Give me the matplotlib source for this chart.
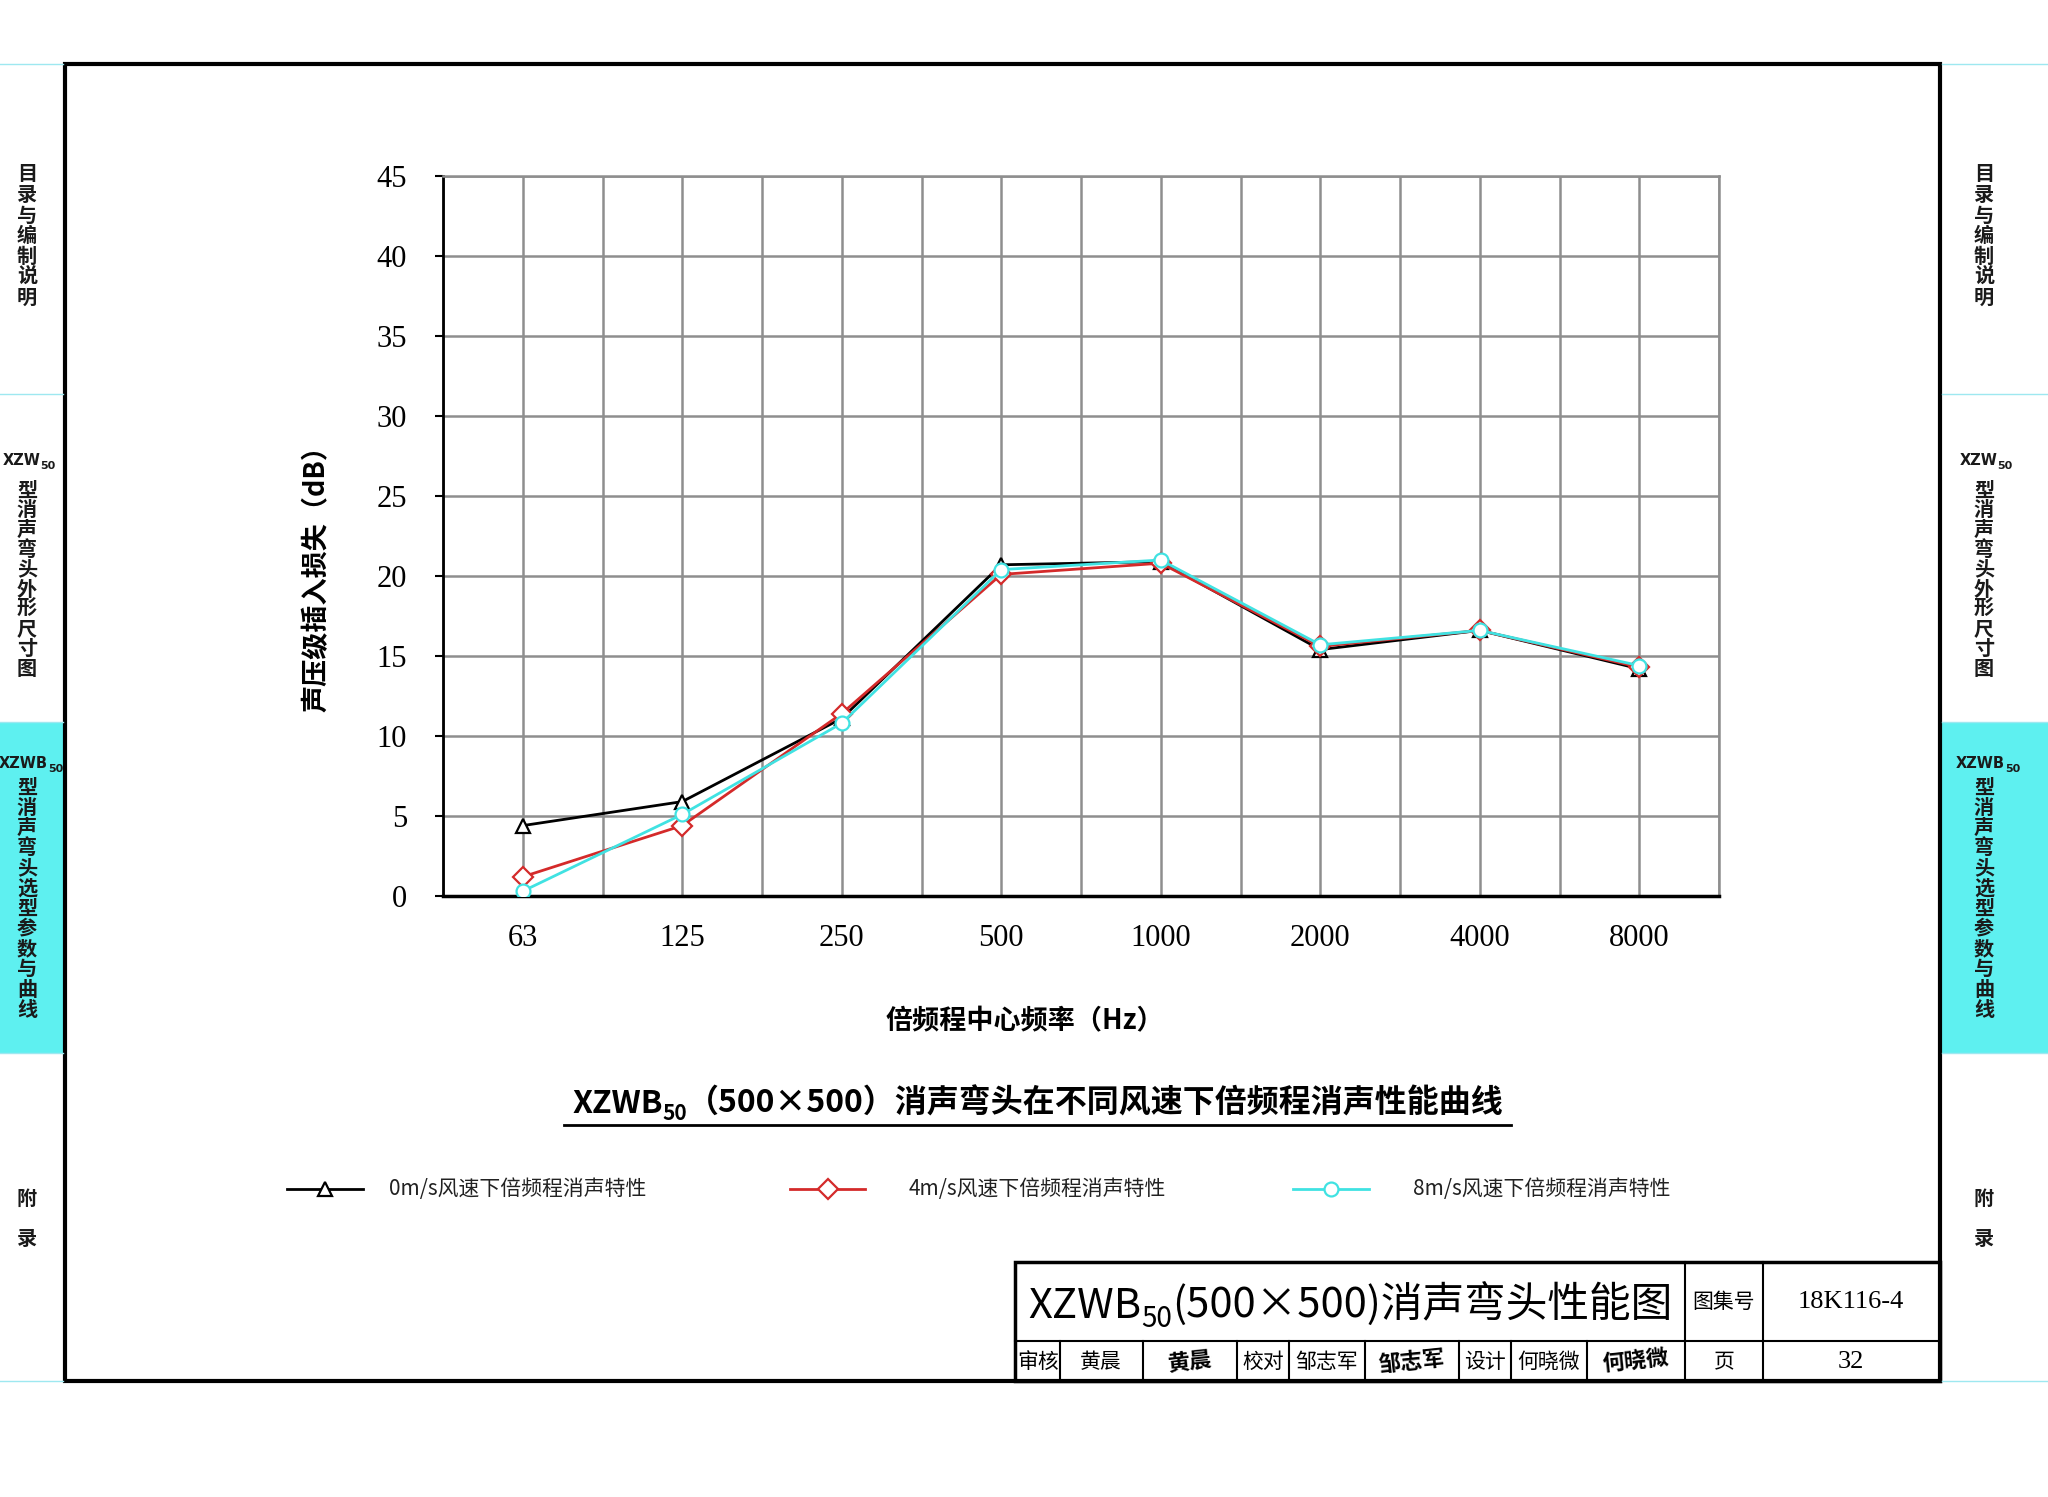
import matplotlib
matplotlib.use('Agg')
import matplotlib.pyplot as plt

plt.rcParams['font.family'] = ['Noto Sans CJK SC', 'DejaVu Sans']

# data
freqs = ['63', '125', '250', '500', '1000', '2000', '4000', '8000']
loss_0ms = [4.4, 5.9, 11.1, 20.7, 20.9, 15.4, 16.6, 14.2]
loss_4ms = [1.2, 4.4, 11.4, 20.1, 20.8, 15.6, 16.6, 14.3]
loss_8ms = [0.3, 5.1, 10.8, 20.4, 21.0, 15.7, 16.6, 14.4]
y_ticks = [0, 5, 10, 15, 20, 25, 30, 35, 40, 45]

series = [
    (loss_0ms, '0m/s风速下倍频程消声特性', 'black', '^'),
    (loss_4ms, '4m/s风速下倍频程消声特性', '#d42a2a', 'D'),
    (loss_8ms, '8m/s风速下倍频程消声特性', '#40e2e2', 'o'),
]

W, H = 2048, 1497
fig = plt.figure(figsize=(W / 100, H / 100), dpi=100)
page = fig.add_axes([0, 0, 1, 1])
page.set_xlim(0, W)
page.set_ylim(H, 0)
page.axis('off')
renderer = fig.canvas.get_renderer()

CYAN = '#5ef0f0'
SERIF = ['Liberation Serif', 'Noto Sans CJK SC']


def rich(x, y, parts, ha='left', **kw):
    # parts: (text, size, dy) drawn one after another on one baseline
    items = []
    cx = x
    for s, size, dy in parts:
        t = page.text(cx, y + dy, s, fontsize=size, va='baseline', ha='left', **kw)
        w = t.get_window_extent(renderer).width
        items.append(t)
        cx += w
    total = cx - x
    if ha == 'center':
        for t in items:
            t.set_x(t.get_position()[0] - total / 2)
    return items


def vertical(x, y0, step, s, size=14.5):
    for i, ch in enumerate(s):
        page.text(x, y0 + i * step, ch, fontsize=size, ha='center', va='center',
                  fontweight='bold', color='#1a1a1a')


# side tabs
for side_x0, side_x1, cx in [(0, 63, 27), (1942, W, 1984)]:
    page.add_patch(plt.Rectangle((side_x0, 722), side_x1 - side_x0, 331, color=CYAN, lw=0))
    for yy in [64, 394, 722, 1053, 1381]:
        page.plot([side_x0, side_x1], [yy, yy], color='#9ee8f0', lw=1)
    vertical(cx, 174, 20.5, '目录与编制说明')
    rich(cx + 2, 465, [('XZW', 10.5, 0), ('50', 8, 4)], ha='center', fontweight='bold',
         color='#1a1a1a', family=['DejaVu Sans'])
    vertical(cx, 490, 19.8, '型消声弯头外形尺寸图')
    rich(cx + 4, 768, [('XZWB', 10.5, 0), ('50', 8, 4)], ha='center', fontweight='bold',
         color='#1a1a1a', family=['DejaVu Sans'])
    vertical(cx, 787, 20.2, '型消声弯头选型参数与曲线')
    vertical(cx, 1198, 40, '附录')

# outer frame
page.add_patch(plt.Rectangle((65, 64), 1875, 1317, fill=False, ec='black', lw=3))

# chart
ax = fig.add_axes([443 / W, 1 - 896 / H, 1276 / W, 720 / H])
x = list(range(len(freqs)))
for vals, label, color, marker in series:
    ax.plot(x, vals, color=color, lw=2, marker=marker, ms=10, mfc='white',
            mec=color, mew=1.6, zorder=3)
ax.set_xlim(-0.5, 7.5)
ax.set_ylim(0, 45)
ax.set_xticks(x)
ax.set_xticklabels(freqs, family=SERIF, fontsize=22)
ax.set_xticks([i - 0.5 for i in x] + [7.5], minor=True)
ax.set_yticks(y_ticks)
ax.set_yticklabels([str(v) for v in y_ticks], family=SERIF, fontsize=22)
ax.set_axisbelow(True)
ax.grid(which='both', axis='x', color='#8e8e8e', lw=1.8)
ax.grid(which='major', axis='y', color='#8e8e8e', lw=1.8)
ax.tick_params(axis='x', which='both', length=0, pad=20)
ax.tick_params(axis='y', length=6, width=1.5, direction='out', pad=20)
for name in ['top', 'right']:
    ax.spines[name].set_color('#8e8e8e')
    ax.spines[name].set_linewidth(1.8)
ax.spines['left'].set_linewidth(2)
ax.spines['bottom'].set_linewidth(2.5)

# axis labels
page.text(317, 572, '声压级插入损失（dB）', rotation=90, fontsize=19.5, fontweight='bold',
          ha='center', va='center')
page.text(1025, 1021, '倍频程中心频率（Hz）', fontsize=19.5, fontweight='bold',
          ha='center', va='center')

# chart title with underline
rich(1038, 1113, [('XZWB', 23, 0), ('50', 15, 7), ('（500×500）消声弯头在不同风速下倍频程消声性能曲线', 23, 0)],
     ha='center', fontweight='bold')
page.plot([564, 1511], [1125, 1125], color='black', lw=2)

# legend
legend_pos = [(287, 363, 389), (790, 865, 909), (1293, 1369, 1413)]
for (vals, label, color, marker), (lx0, lx1, tx) in zip(series, legend_pos):
    page.plot([lx0, lx1], [1189, 1189], color=color, lw=2)
    page.plot([(lx0 + lx1) / 2], [1189], marker=marker, ms=10, mfc='white', mec=color, mew=1.6)
    page.text(tx, 1189, label, fontsize=15, va='center', ha='left', color='#222222',
              fontweight='medium')

# title block
bx0, bx1, by0, by1, bym = 1015, 1940, 1262, 1381, 1341
page.add_patch(plt.Rectangle((bx0, by0), bx1 - bx0, by1 - by0, fill=False, ec='black', lw=2.5))
page.plot([bx0, bx1], [bym, bym], color='black', lw=1.5)
for xx in [1685, 1763]:
    page.plot([xx, xx], [by0, by1], color='black', lw=1.5)
for xx in [1060, 1143, 1237, 1289, 1365, 1459, 1511, 1587]:
    page.plot([xx, xx], [bym, by1], color='black', lw=1.5)

rich(1028, 1318, [('XZWB', 30, 0), ('50', 20, 9), ('(500×500)消声弯头性能图', 30, 0)],
     fontweight='medium')
page.text(1724, 1302, '图集号', fontsize=15, ha='center', va='center')
page.text(1851, 1302, '18K116-4', fontsize=19, ha='center', va='center', family=SERIF)
page.text(1724, 1362, '页', fontsize=15, ha='center', va='center')
page.text(1851, 1362, '32', fontsize=19, ha='center', va='center', family=SERIF)

row = [
    (1038, '审核'), (1101, '黄晨'), (1263, '校对'), (1327, '邹志军'),
    (1485, '设计'), (1549, '何晓微'),
]
for xx, s in row:
    page.text(xx, 1362, s, fontsize=15, ha='center', va='center')
for xx, s in [(1190, '黄晨'), (1412, '邹志军'), (1636, '何晓微')]:
    page.text(xx, 1362, s, fontsize=16, ha='center', va='center', fontweight='heavy',
              rotation=6)

fig.savefig('out.png', dpi=100)
